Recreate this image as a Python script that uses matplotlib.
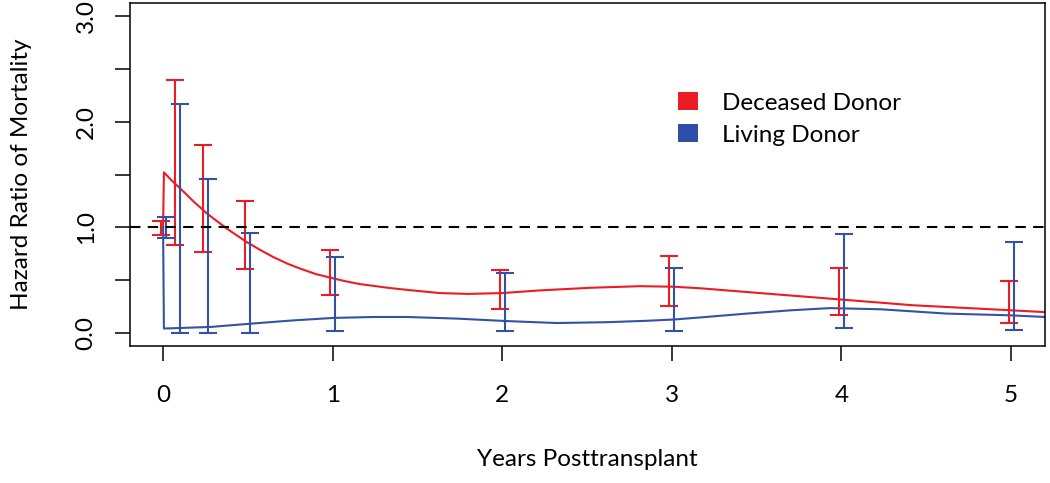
import matplotlib
matplotlib.use("Agg")
import matplotlib.pyplot as plt
from matplotlib.patches import Patch
import numpy as np

plt.rcParams['font.family'] = ['Lato', 'DejaVu Sans']

# smoothed hazard ratio curves (years, HR)
dd_t = [0, 0.005, 0.05, 0.10, 0.18, 0.26, 0.375, 0.49, 0.57, 0.65, 0.73, 0.81, 0.9, 1.0,
        1.08, 1.16, 1.24, 1.34, 1.44, 1.63, 1.8, 2.0, 2.22, 2.52, 2.81, 3.01, 3.17, 3.44,
        3.99, 4.42, 4.99, 5.2]
dd_hr = [1.0, 1.52, 1.445, 1.37, 1.245, 1.13, 0.99, 0.865, 0.79, 0.72, 0.66, 0.61, 0.56, 0.52,
         0.49, 0.465, 0.448, 0.427, 0.41, 0.38, 0.372, 0.38, 0.405, 0.43, 0.445, 0.44, 0.425, 0.39,
         0.32, 0.265, 0.218, 0.20]

ld_t = [0, 0.005, 0.28, 0.51, 0.75, 1.0, 1.24, 1.44, 1.73, 2.02, 2.32, 2.62, 2.85, 3.01, 3.17,
        3.44, 3.7, 3.93, 4.23, 4.62, 4.99, 5.2]
ld_hr = [1.0, 0.045, 0.06, 0.09, 0.12, 0.145, 0.154, 0.154, 0.139, 0.116, 0.097, 0.105, 0.118, 0.13, 0.15,
         0.186, 0.217, 0.238, 0.227, 0.186, 0.17, 0.154]

# interval estimates at fixed time points
ci_t = [0, 1/12, 0.25, 0.5, 1, 2, 3, 4, 5]
dd_lo = [0.93, 0.83, 0.77, 0.61, 0.36, 0.23, 0.255, 0.17, 0.10]
dd_hi = [1.06, 2.39, 1.78, 1.25, 0.79, 0.60, 0.73, 0.62, 0.495]
ld_lo = [0.90, 0.0, 0.0, 0.0, 0.02, 0.02, 0.02, 0.05, 0.03]
ld_hi = [1.10, 2.17, 1.46, 0.95, 0.72, 0.57, 0.62, 0.94, 0.86]

red = '#ec1c24'
blue = '#3452a4'
fs = 17.5

fig = plt.figure(figsize=(10.5, 4.83), dpi=100)
ax = fig.add_axes([130/1050, 137/483, 915/1050, 343/483])

ax.plot(dd_t, dd_hr, color=red, lw=1.5)
ax.plot(ld_t, ld_hr, color=blue, lw=1.5)

# small horizontal offset so the two sets of bars don't overlap
off = 0.015
ci_t = np.array(ci_t)
for t, lo, hi, c, sh in [(ci_t, dd_lo, dd_hi, red, -off), (ci_t, ld_lo, ld_hi, blue, off)]:
    lo = np.array(lo)
    hi = np.array(hi)
    mid = (lo + hi) / 2
    ax.errorbar(t + sh, mid, yerr=[mid - lo, hi - mid], fmt='none', ecolor=c,
                elinewidth=1.5, capsize=6.5, capthick=1.5)

ax.axhline(1.0, color='black', lw=1.5, ls=(0, (5, 3.5)))

ax.set_xlim(-0.195, 5.2)
ax.set_ylim(-0.12, 3.12)
ax.set_xticks([0, 1, 2, 3, 4, 5])
ax.set_yticks(np.arange(0, 3.01, 0.5))
ax.set_yticklabels(['0.0', '', '1.0', '', '2.0', '', '3.0'], rotation=90, va='center')
ax.tick_params(axis='both', direction='out', length=11, width=1.1, labelsize=fs)
ax.tick_params(axis='x', pad=17)
ax.tick_params(axis='y', pad=13)
for s in ax.spines.values():
    s.set_linewidth(1.1)

ax.set_xlabel('Years Posttransplant', fontsize=fs)
ax.xaxis.set_label_coords(0.5, -0.30)
ax.set_ylabel('Hazard Ratio of Mortality', fontsize=fs)
ax.yaxis.set_label_coords(-0.107, 0.5)

handles = [Patch(facecolor=red, edgecolor='none', label='Deceased Donor'),
           Patch(facecolor='#2f4fa8', edgecolor='none', label='Living Donor')]
ax.legend(handles=handles, loc='upper left', bbox_to_anchor=(0.599, 0.74), frameon=False,
          fontsize=fs, handlelength=0.8, handleheight=0.75, handletextpad=1.0,
          labelspacing=0.45, borderpad=0, borderaxespad=0)

fig.savefig('out.png', dpi=100)
